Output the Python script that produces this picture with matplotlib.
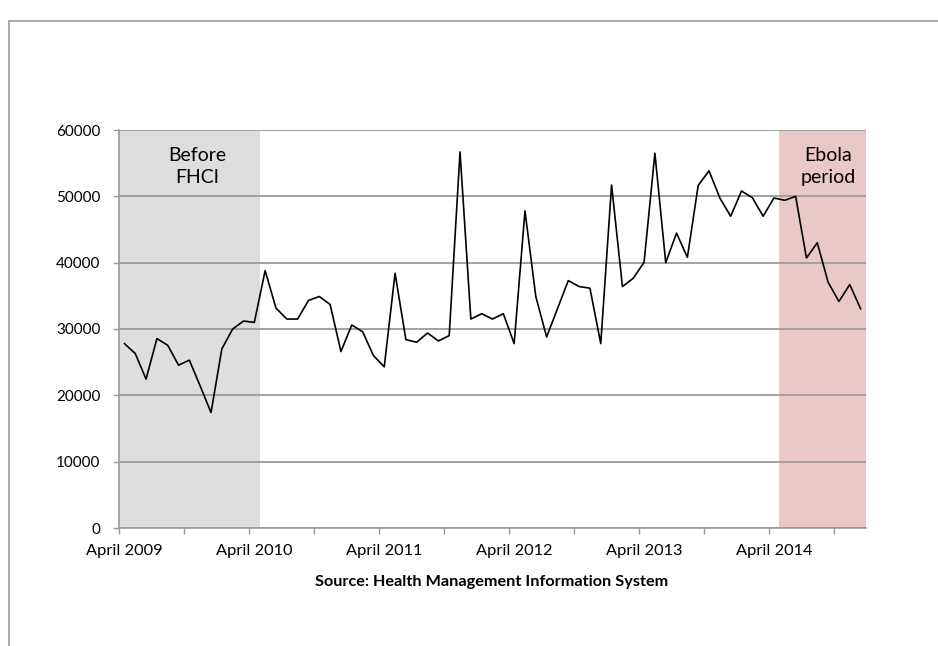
import numpy as np
import matplotlib.pyplot as plt
from matplotlib.lines import Line2D

plt.rcParams['font.family'] = ['Lato', 'DejaVu Sans']

# monthly values, April 2009 - December 2014
visits = [
    27800, 26300, 22450, 28550, 27550, 24550, 25300, 21400, 17400, 27000,
    30000, 31200, 31000, 38800, 33150, 31500, 31500, 34300, 34900, 33700,
    26600, 30600, 29600, 26000, 24300, 38400, 28400, 28000, 29400, 28200,
    29000, 56700, 31500, 32300, 31500, 32300, 27800, 47800, 34900, 28800,
    33050, 37300, 36400, 36150, 27800, 51700, 36400, 37650, 40050, 56500,
    40000, 44450, 40800, 51650, 53850, 49750, 47000, 50800, 49800, 47000,
    49750, 49400, 50000, 40700, 43000, 37050, 34150, 36700, 33050
]

tick_labels = ["April 2009", "April 2010", "April 2011",
               "April 2012", "April 2013", "April 2014"]
label_months = [0, 12, 24, 36, 48, 60]

before_fhci = (0, 13)   # April 2009 - April 2010
ebola = (61, 69)        # May 2014 - December 2014

fig = plt.figure(figsize=(9.38, 6.46), dpi=100)
ax = fig.add_axes([119/938, 1 - 528/646, (866 - 119)/938, (528 - 130)/646])

n = len(visits)
x = np.arange(n) + 0.5

ax.axvspan(before_fhci[0], before_fhci[1], color='#dedede', lw=0, zorder=0)
ax.axvspan(ebola[0], ebola[1], color='#ebc8c8', lw=0, zorder=0)
ax.plot(x, visits, color='black', lw=1.2, zorder=3)

ax.set_xlim(0, n)
ax.set_ylim(0, 60000)
ax.set_yticks(np.arange(0, 60001, 10000))
ax.set_axisbelow(True)
ax.yaxis.grid(True, color='#9a9a9a', lw=1.3)

# ticks between months every half year, labels centred on April
ax.set_xticks(np.arange(0, n, 6))
ax.set_xticklabels([])
ax.set_xticks([m + 0.5 for m in label_months], minor=True)
ax.set_xticklabels(tick_labels, minor=True)
ax.tick_params(axis='x', which='major', length=4.5, width=1, color='#9a9a9a', direction='out')
ax.tick_params(axis='x', which='minor', length=0, pad=11.5, labelsize=11.8)
ax.tick_params(axis='y', length=4.5, width=1, color='#9a9a9a', pad=9, labelsize=11)

for s in ['top', 'right']:
    ax.spines[s].set_visible(False)
for s in ['left', 'bottom']:
    ax.spines[s].set_color('#9a9a9a')
    ax.spines[s].set_linewidth(1.2)

ax.text(7.2, 54500, "Before\nFHCI", ha='center', va='center', fontsize=14, linespacing=1.35)
ax.text(65.5, 54500, "Ebola\nperiod", ha='center', va='center', fontsize=14, linespacing=1.35)

fig.text(492/938, 1 - 582/646, "Source: Health Management Information System",
         ha='center', va='center', fontsize=11.7, weight='bold')

# chart border (cropped)
fig.add_artist(Line2D([9/938, 1], [1 - 21/646, 1 - 21/646], transform=fig.transFigure,
                      color='#a6a6a6', lw=1.3))
fig.add_artist(Line2D([9/938, 9/938], [0, 1 - 21/646], transform=fig.transFigure,
                      color='#a6a6a6', lw=1.3))

fig.savefig('out.png', dpi=100)
